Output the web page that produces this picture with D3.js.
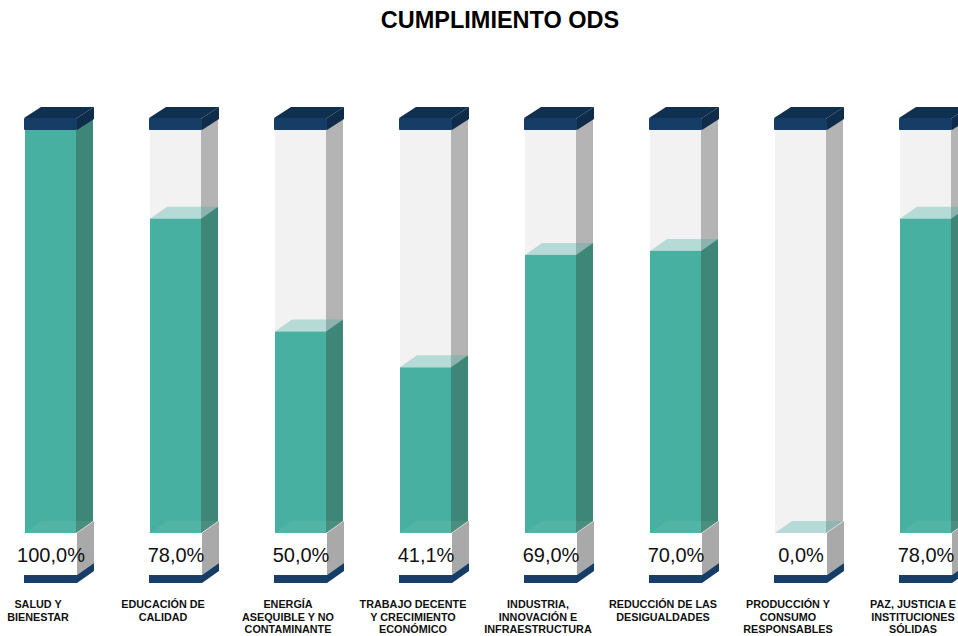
<!DOCTYPE html>
<html>
<head>
<meta charset="utf-8">
<script src="https://cdn.jsdelivr.net/npm/d3@7"></script>
<style>
  body { margin: 0; background: #fff; }
  svg { display: block; font-family: "Liberation Sans", Arial, sans-serif; }
</style>
</head>
<body>
<div id="chart"></div>
<script>
// categories (label lines) and values
const categories = ["SALUD Y BIENESTAR", "EDUCACIÓN DE CALIDAD", "ENERGÍA ASEQUIBLE Y NO CONTAMINANTE",
  "TRABAJO DECENTE Y CRECIMIENTO ECONÓMICO", "INDUSTRIA, INNOVACIÓN E INFRAESTRUCTURA",
  "REDUCCIÓN DE LAS DESIGUALDADES", "PRODUCCIÓN Y CONSUMO RESPONSABLES", "PAZ, JUSTICIA E INSTITUCIONES SÓLIDAS"];
const labelLines = [
  ["SALUD Y", "BIENESTAR"],
  ["EDUCACIÓN DE", "CALIDAD"],
  ["ENERGÍA", "ASEQUIBLE Y NO", "CONTAMINANTE"],
  ["TRABAJO DECENTE", "Y CRECIMIENTO", "ECONÓMICO"],
  ["INDUSTRIA,", "INNOVACIÓN E", "INFRAESTRUCTURA"],
  ["REDUCCIÓN DE LAS", "DESIGUALDADES"],
  ["PRODUCCIÓN Y", "CONSUMO", "RESPONSABLES"],
  ["PAZ, JUSTICIA E", "INSTITUCIONES", "SÓLIDAS"]
];
const values = [100, 78, 50, 41.1, 69, 70, 0, 78];

const W = 958, H = 636;
const bw = 51, dx = 17, dy = 12;

const svg = d3.select("#chart").append("svg").attr("width", W).attr("height", H);

const x = d3.scalePoint().domain(categories).range([25, 25 + 7 * 125]);
const y = d3.scaleLinear().domain([0, 100]).range([533, 130]);

const fmt = v => d3.format(".1f")(v).replace(".", ",") + "%";
const poly = pts => "M" + pts.map(p => p.join(",")).join("L") + "Z";

svg.append("text")
  .attr("x", 500).attr("y", 28)
  .attr("text-anchor", "middle")
  .attr("font-size", 23.5).attr("font-weight", "bold")
  .attr("fill", "#000")
  .text("CUMPLIMIENTO ODS");

const col = svg.selectAll("g.col")
  .data(categories.map((c, i) => ({ c, v: values[i], lines: labelLines[i] })))
  .join("g").attr("class", "col");

col.each(function(d) {
  const g = d3.select(this);
  const x0 = x(d.c), x1 = x0 + bw;
  const yTop = y(100), yBot = y(0), yv = y(d.v);

  // empty glass body
  g.append("rect").attr("x", x0).attr("y", yTop).attr("width", bw).attr("height", yBot - yTop).attr("fill", "#f2f2f2");
  g.append("path").attr("d", poly([[x1, yTop], [x1 + dx, yTop - dy], [x1 + dx, yBot - dy], [x1, yBot]])).attr("fill", "#b4b4b4");

  // filled part
  g.append("rect").attr("x", x0).attr("y", yv).attr("width", bw).attr("height", yBot - yv).attr("fill", "#47b0a0");
  g.append("path").attr("d", poly([[x1, yv], [x1 + dx, yv - dy], [x1 + dx, yBot - dy], [x1, yBot]])).attr("fill", "#3e8778");
  // floor
  g.append("path").attr("d", poly([[x0, yBot], [x0 + dx, yBot - dy], [x1 + dx, yBot - dy], [x1, yBot]]))
    .attr("fill", "#ffffff").attr("opacity", 0.06);
  // top surface of fill
  g.append("path").attr("d", poly([[x0, yv], [x0 + dx, yv - dy], [x1 + dx, yv - dy], [x1, yv]]))
    .attr("fill", "#47b0a0").attr("opacity", 0.35);

  // cap
  const cy0 = yTop - 12, cy1 = yTop;
  g.append("path").attr("d", poly([[x0 - 1, cy0], [x0 - 1 + dx, cy0 - 11], [x1 + 1 + dx, cy0 - 11], [x1 + 1, cy0]])).attr("fill", "#10304f");
  g.append("path").attr("d", poly([[x1 + 1, cy0], [x1 + 1 + dx, cy0 - 11], [x1 + 1 + dx, cy1 - 11], [x1 + 1, cy1]])).attr("fill", "#0f2c4a");
  g.append("rect").attr("x", x0 - 1).attr("y", cy0).attr("width", bw + 2).attr("height", cy1 - cy0).attr("rx", 1).attr("fill", "#163d66");

  // label box side
  const by = yBot + 42;
  g.append("path").attr("d", poly([[x1 + 1, yBot], [x1 + 1 + dx, yBot - dy], [x1 + 1 + dx, by - dy], [x1 + 1, by]])).attr("fill", "#a9a9a9");

  // base
  g.append("path").attr("d", poly([[x1 + 1, by], [x1 + 1 + dx, by - dy], [x1 + 1 + dx, by - dy + 8], [x1 + 1, by + 8]])).attr("fill", "#163d66");
  g.append("rect").attr("x", x0 - 1).attr("y", by).attr("width", bw + 2).attr("height", 8).attr("fill", "#173f69");

  // value
  g.append("text")
    .attr("x", x0 + 26).attr("y", yBot + 29)
    .attr("text-anchor", "middle")
    .attr("font-size", 20).attr("fill", "#111")
    .text(fmt(d.v));

  // category label
  const t = g.append("text")
    .attr("text-anchor", "middle")
    .attr("font-size", 10.8).attr("font-weight", "bold").attr("fill", "#111");
  d.lines.forEach((ln, i) => {
    t.append("tspan").attr("x", x0 + 13).attr("y", 608 + i * 12.6).text(ln);
  });
});
</script>
</body>
</html>
